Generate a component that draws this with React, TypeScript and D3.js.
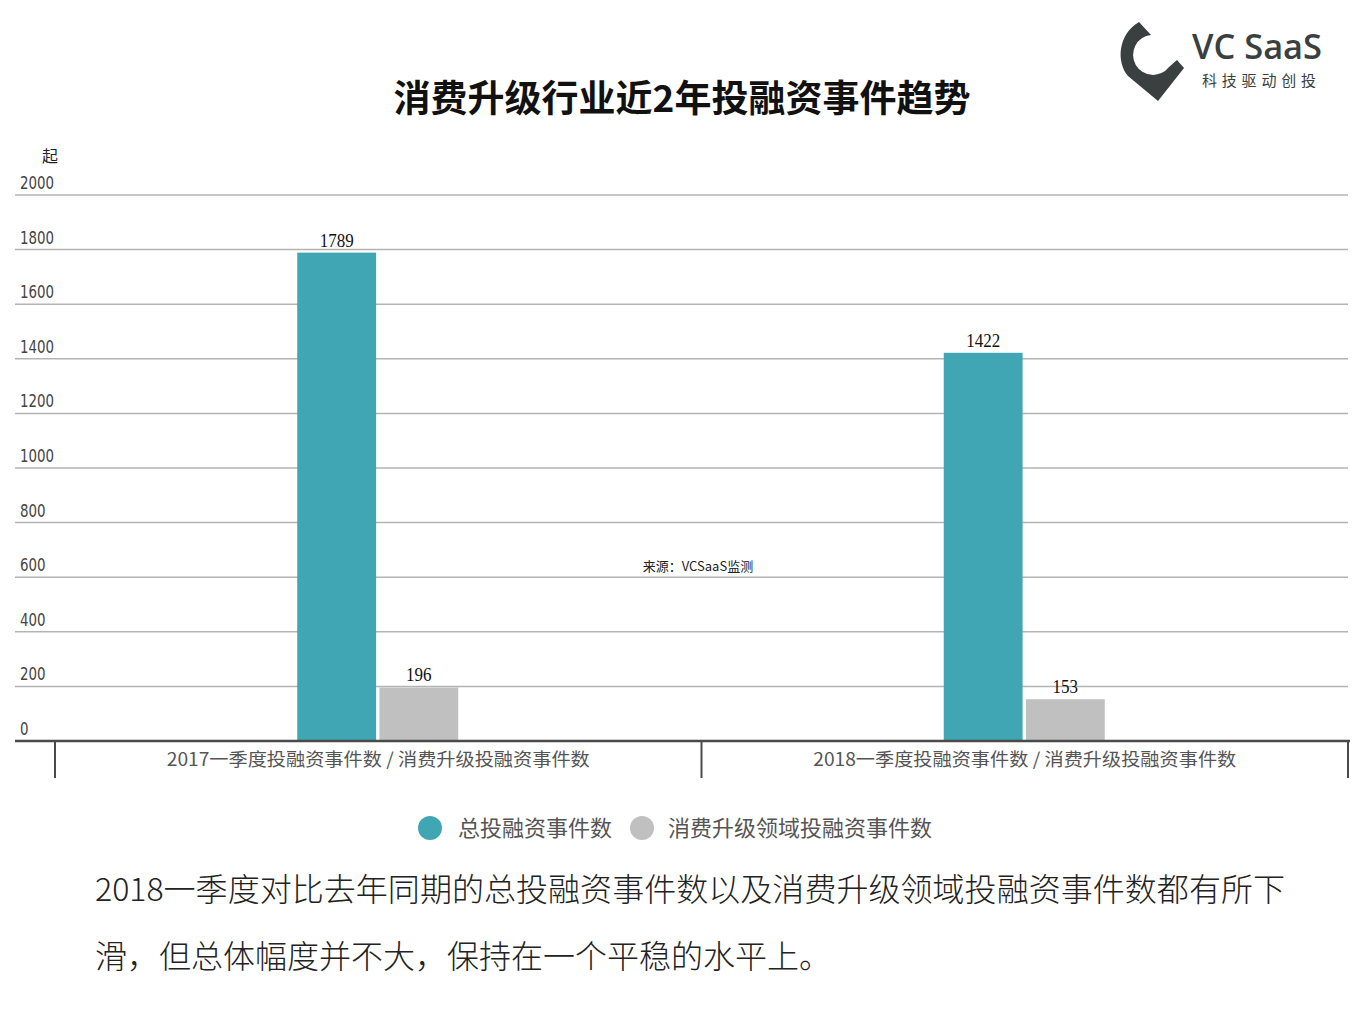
import React from "react";
import * as d3 from "d3";

const categories = [
  "2017一季度投融资事件数 / 消费升级投融资事件数",
  "2018一季度投融资事件数 / 消费升级投融资事件数",
];
const seriesNames = ["总投融资事件数", "消费升级领域投融资事件数"];
const totalEvents = [1789, 1422];
const consumerEvents = [196, 153];
const yTicks = [0, 200, 400, 600, 800, 1000, 1200, 1400, 1600, 1800, 2000];
const title = "消费升级行业近2年投融资事件趋势";
const yUnit = "起";
const source = "来源：VCSaaS监测";
const noteLines = [
  "2018一季度对比去年同期的总投融资事件数以及消费升级领域投融资事件数都有所下",
  "滑，但总体幅度并不大，保持在一个平稳的水平上。",
];

const W = 1365;
const H = 1023;
const colors = ["#41a6b3", "#c0c0c0"];
const CJK = "'Noto Sans CJK SC', 'Noto Sans', sans-serif";
const NARROW = "'Liberation Sans Narrow', 'DejaVu Sans Condensed', sans-serif";

export default function App() {
  const y = d3.scaleLinear().domain([0, 2000]).range([741, 195]);
  const x0 = d3.scaleBand<string>().domain(categories).range([55, 1348]).paddingInner(0);
  const x1 = d3
    .scaleBand<string>()
    .domain(seriesNames)
    .range([-81, 80])
    .paddingInner(0.04);
  const seriesData = [totalEvents, consumerEvents];

  return (
    <svg
      width={W}
      height={H}
      style={{ position: "absolute", left: 0, top: 0, background: "#fff" }}
    >
      {/* logo */}
      <g>
        <path
          d="M1139,22 L1151,35 A20,20 0 1,0 1169,67 L1177,60 L1184,68 L1158,101 L1128,76 C1116,62 1118,34 1139,22 Z"
          fill="#3a3f3f"
        />
        <text
          x={1192}
          y={59}
          fontFamily="'Open Sans', 'Noto Sans', sans-serif"
          fontWeight={600}
          fontSize={34}
          fill="#3a3f3f"
          textLength={130}
          lengthAdjust="spacingAndGlyphs"
        >
          VC SaaS
        </text>
        <text
          x={1202}
          y={86}
          fontFamily={CJK}
          fontSize={15}
          fill="#3a3f3f"
          textLength={114}
        >
          科技驱动创投
        </text>
      </g>

      {/* title */}
      <text
        x={682}
        y={112}
        textAnchor="middle"
        fontFamily={CJK}
        fontWeight={700}
        fontSize={37}
        fill="#111"
      >
        {title}
      </text>

      {/* y unit */}
      <text x={50} y={162} textAnchor="middle" fontFamily={CJK} fontSize={16} fill="#222">
        {yUnit}
      </text>

      {/* grid + ticks */}
      {yTicks.map((t) => (
        <g key={t}>
          {t !== 0 && (
            <line x1={15} x2={1348} y1={y(t)} y2={y(t)} stroke="#b3b3b3" strokeWidth={1.5} />
          )}
          <text
            x={20}
            y={y(t) - 6}
            fontFamily={NARROW}
            fontSize={17}
            fill="#444"
            textLength={String(t).length * 8.5}
            lengthAdjust="spacingAndGlyphs"
          >
            {t}
          </text>
        </g>
      ))}

      {/* source */}
      <text x={698} y={571} textAnchor="middle" fontFamily={CJK} fontSize={13} fill="#222">
        {source}
      </text>

      {/* bars */}
      {categories.map((c, i) => {
        const cx = (x0(c) as number) + x0.bandwidth() / 2;
        return (
          <g key={c}>
            {seriesNames.map((s, j) => {
              const v = seriesData[j][i];
              const bx = cx + (x1(s) as number);
              return (
                <g key={s}>
                  <rect
                    x={bx}
                    y={y(v)}
                    width={x1.bandwidth()}
                    height={y(0) - y(v)}
                    fill={colors[j]}
                  />
                  <text
                    x={bx + x1.bandwidth() / 2}
                    y={y(v) - 6}
                    textAnchor="middle"
                    fontFamily="'Liberation Serif', serif"
                    fontSize={19}
                    fill="#111"
                    textLength={String(v).length * 8.5}
                    lengthAdjust="spacingAndGlyphs"
                  >
                    {v}
                  </text>
                </g>
              );
            })}
          </g>
        );
      })}

      {/* x axis */}
      <line x1={15} x2={1350} y1={y(0)} y2={y(0)} stroke="#4a4a4a" strokeWidth={2.5} />
      {[0, 1, 2].map((k) => {
        const xx = k < 2 ? (x0(categories[k]) as number) : 1348;
        return <line key={k} x1={xx} x2={xx} y1={y(0)} y2={778} stroke="#4a4a4a" strokeWidth={2} />;
      })}
      {categories.map((c) => (
        <text
          key={c}
          x={(x0(c) as number) + x0.bandwidth() / 2}
          y={766}
          textAnchor="middle"
          fontFamily={CJK}
          fontSize={18}
          fill="#555"
          textLength={423}
          lengthAdjust="spacingAndGlyphs"
        >
          {c}
        </text>
      ))}

      {/* legend */}
      {[
        { cx: 430, tx: 458 },
        { cx: 642, tx: 668 },
      ].map((p, j) => (
        <g key={j}>
          <circle cx={p.cx} cy={828} r={12} fill={colors[j]} />
          <text x={p.tx} y={836} fontFamily={CJK} fontSize={22} fill="#555">
            {seriesNames[j]}
          </text>
        </g>
      ))}

      {/* note */}
      {noteLines.map((l, i) => (
        <text
          key={i}
          x={95}
          y={901 + i * 67}
          fontFamily={CJK}
          fontWeight={300}
          fontSize={32}
          fill="#222"
          textLength={i === 0 ? 1190 : undefined}
          lengthAdjust="spacingAndGlyphs"
        >
          {l}
        </text>
      ))}
    </svg>
  );
}
